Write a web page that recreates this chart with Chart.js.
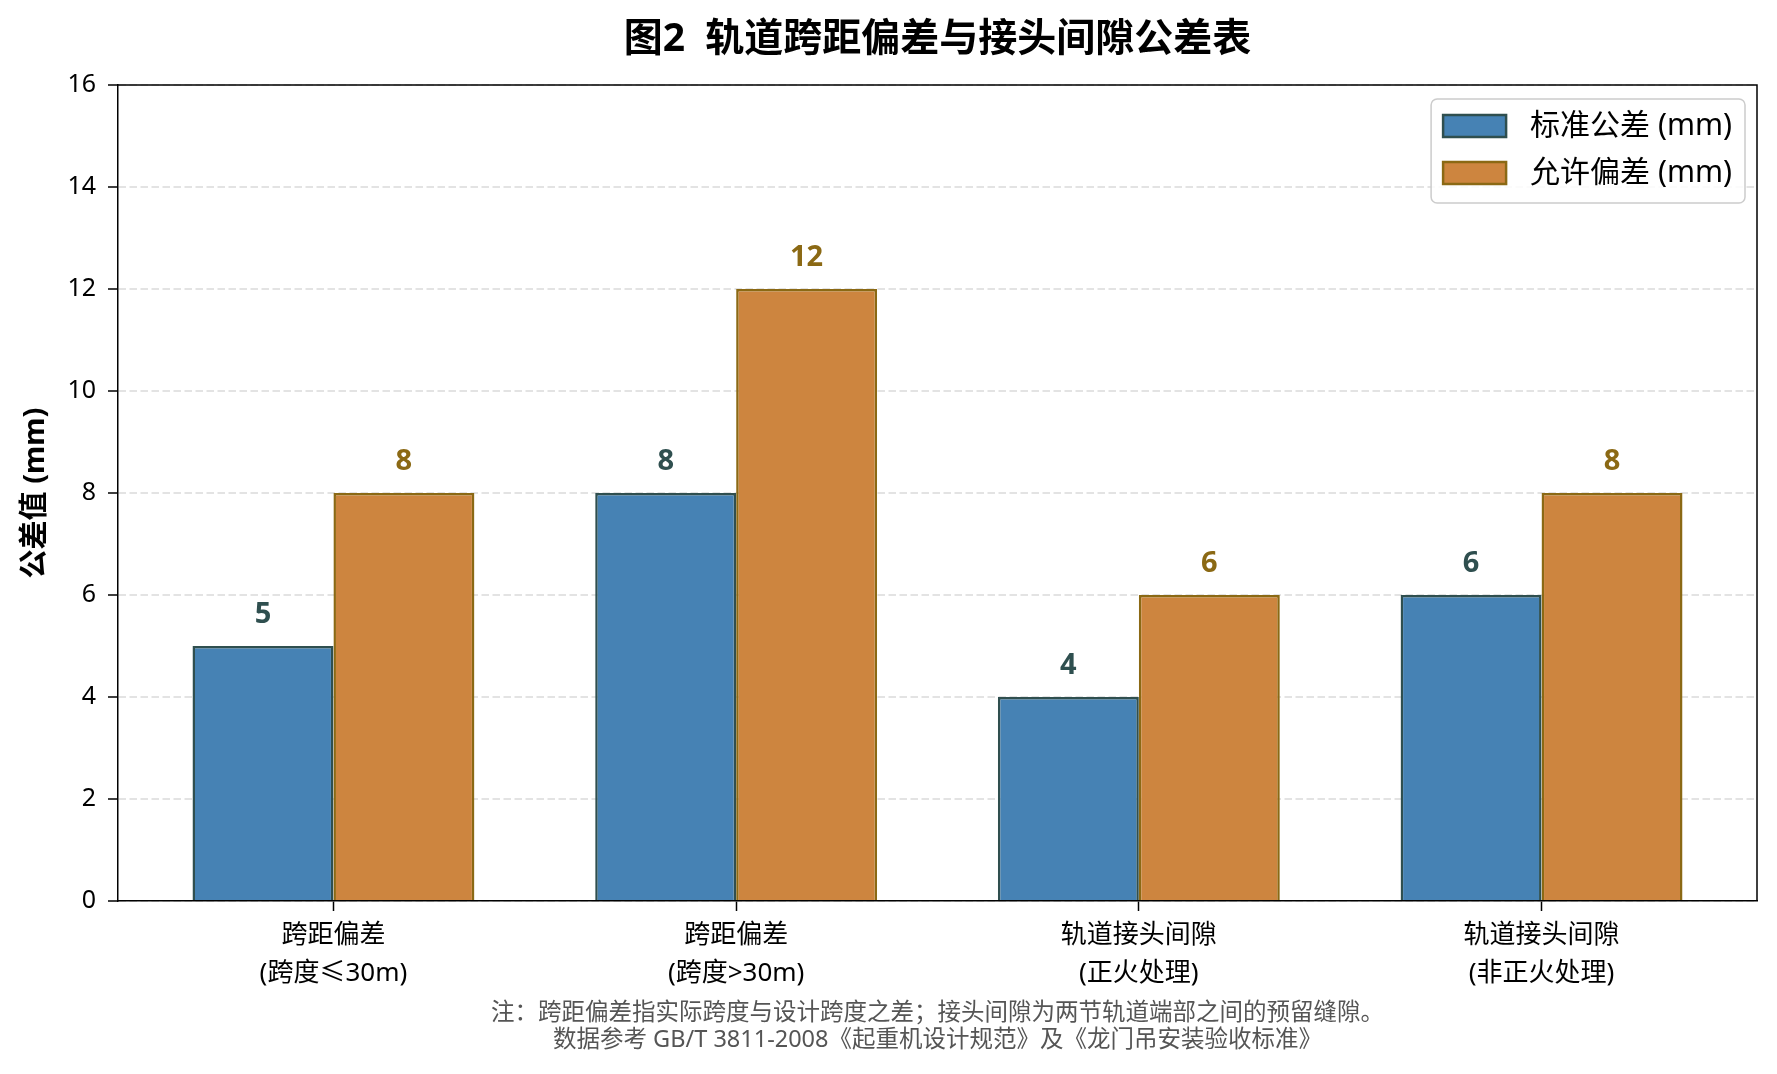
<!DOCTYPE html>
<html>
<head>
<meta charset="utf-8">
<script src="https://cdn.jsdelivr.net/npm/chart.js@4/dist/chart.umd.min.js"></script>
<style>
  html, body { margin: 0; padding: 0; background: #fff; }
  #wrap { width: 1777px; height: 1074px; }
</style>
</head>
<body>
<div id="wrap"><canvas id="chart1" width="1777" height="1074"></canvas></div>
<script>
// chart data
var categories = [
    ['跨距偏差', '(跨度≤30m)'],
    ['跨距偏差', '(跨度>30m)'],
    ['轨道接头间隙', '(正火处理)'],
    ['轨道接头间隙', '(非正火处理)']
];
var standardTol = [5, 8, 4, 6];
var allowedDev = [8, 12, 6, 8];
var seriesNames = ['标准公差 (mm)', '允许偏差 (mm)'];
var yMin = 0, yMax = 16, yStep = 2;

var titleText = '图2  轨道跨距偏差与接头间隙公差表';
var yTitle = '公差值 (mm)';
var noteLines = [
    '注：跨距偏差指实际跨度与设计跨度之差；接头间隙为两节轨道端部之间的预留缝隙。',
    '数据参考 GB/T 3811-2008《起重机设计规范》及《龙门吊安装验收标准》'
];

var FONT = "'Noto Sans', 'Noto Sans CJK SC', sans-serif";

function toPoints(values) {
    return values.map(function (v, i) { return { x: i, y: v }; });
}

// extra drawing: title, footnote, top/right spines, legend, value labels
var decorPlugin = {
    id: 'decor',
    afterDraw: function (chart) {
        var ctx = chart.ctx;
        var area = chart.chartArea;
        var cx = (area.left + area.right) / 2;
        ctx.save();

        // title
        ctx.fillStyle = '#000';
        ctx.textAlign = 'center';
        ctx.textBaseline = 'middle';
        ctx.font = 'bold 39px ' + FONT;
        ctx.fillText(titleText, cx, 40);

        // footnote
        ctx.fillStyle = '#555';
        ctx.font = '23.5px ' + FONT;
        ctx.fillText(noteLines[0], cx, 1013);
        ctx.fillText(noteLines[1], cx, 1040);

        // top and right spines
        ctx.strokeStyle = '#000';
        ctx.lineWidth = 1.5;
        ctx.beginPath();
        ctx.moveTo(area.left, area.top);
        ctx.lineTo(area.right, area.top);
        ctx.lineTo(area.right, area.bottom);
        ctx.stroke();

        // value labels above bars
        ctx.font = 'bold 29px ' + FONT;
        chart.data.datasets.forEach(function (ds, di) {
            var meta = chart.getDatasetMeta(di);
            meta.data.forEach(function (bar, i) {
                ctx.fillStyle = ds.borderColor;
                ctx.fillText(String(ds.data[i].y), bar.x, bar.y - 31);
            });
        });

        // legend box in the upper right corner
        ctx.font = '30px ' + FONT;
        var textW = 0;
        chart.data.datasets.forEach(function (ds) {
            textW = Math.max(textW, ctx.measureText(ds.label).width);
        });
        var patchW = 63, patchH = 22, rowH = 47;
        var boxW = 12 + patchW + 24 + textW + 13;
        var boxH = 104;
        var bx = area.right - 12 - boxW;
        var by = area.top + 14;
        ctx.fillStyle = 'rgba(255,255,255,0.85)';
        ctx.strokeStyle = '#cccccc';
        ctx.lineWidth = 1.5;
        ctx.beginPath();
        ctx.roundRect(bx, by, boxW, boxH, 6);
        ctx.fill();
        ctx.stroke();
        ctx.textAlign = 'left';
        chart.data.datasets.forEach(function (ds, di) {
            var rowY = by + 27 + di * rowH;
            ctx.fillStyle = ds.backgroundColor;
            ctx.fillRect(bx + 12, rowY - patchH / 2, patchW, patchH);
            ctx.strokeStyle = ds.borderColor;
            ctx.lineWidth = 2.5;
            ctx.strokeRect(bx + 12, rowY - patchH / 2, patchW, patchH);
            ctx.fillStyle = '#000';
            ctx.fillText(ds.label, bx + 12 + patchW + 24, rowY);
        });
        ctx.restore();
    }
};

var ctx1 = document.getElementById('chart1').getContext('2d');
var chart1 = new Chart(ctx1, {
    type: 'bar',
    data: {
        datasets: [{
            label: seriesNames[0],
            backgroundColor: '#4682B4',
            borderColor: '#2F4F4F',
            borderWidth: 2.5,
            data: toPoints(standardTol)
        }, {
            label: seriesNames[1],
            backgroundColor: '#CD853F',
            borderColor: '#8B6914',
            borderWidth: 2.5,
            data: toPoints(allowedDev)
        }]
    },
    options: {
        responsive: false,
        animation: false,
        devicePixelRatio: 1,
        categoryPercentage: 0.7,
        barPercentage: 1.0,
        layout: { padding: { left: 0, top: 85, right: 20, bottom: 0 } },
        plugins: {
            legend: { display: false },
            title: { display: false },
            tooltip: { enabled: false }
        },
        scales: {
            x: {
                type: 'linear',
                offset: false,
                min: -0.535,
                max: categories.length - 1 + 0.535,
                afterBuildTicks: function (scale) {
                    scale.ticks = categories.map(function (c, i) { return { value: i }; });
                },
                afterFit: function (scale) { scale.height = 173; },
                ticks: {
                    autoSkip: false,
                    maxRotation: 0,
                    padding: 5,
                    color: '#000',
                    font: { family: FONT, size: 26, lineHeight: 1.48 },
                    callback: function (value) { return categories[value]; }
                },
                grid: {
                    offset: false,
                    drawOnChartArea: false,
                    drawTicks: true,
                    tickLength: 10,
                    tickColor: '#000',
                    tickWidth: 1.5
                },
                border: { color: '#000', width: 1.5 }
            },
            y: {
                min: yMin,
                max: yMax,
                z: 1,
                afterFit: function (scale) { scale.width = 118; },
                ticks: {
                    stepSize: yStep,
                    padding: 12,
                    color: '#000',
                    font: { family: FONT, size: 25 }
                },
                title: {
                    display: true,
                    text: yTitle,
                    color: '#000',
                    padding: { top: 18, bottom: 0 },
                    font: { family: FONT, size: 29, weight: 'bold', lineHeight: 1.2 }
                },
                grid: {
                    color: 'rgba(170,170,170,0.33)',
                    lineWidth: 2,
                    tickColor: '#000',
                    tickWidth: 1.5,
                    tickLength: 10,
                    tickBorderDash: []
                },
                border: { color: '#000', width: 1.5, dash: [7.5, 3.5] }
            }
        }
    },
    plugins: [decorPlugin]
});
</script>
</body>
</html>
